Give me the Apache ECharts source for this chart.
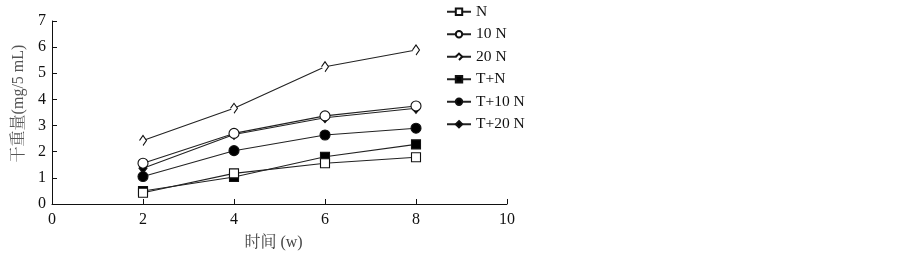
<!DOCTYPE html>
<html>
<head>
<meta charset="utf-8">
<script src="https://cdn.jsdelivr.net/npm/echarts@6/dist/echarts.min.js"></script>
<style>
html,body{margin:0;padding:0;background:#fff;}
#chart{width:903px;height:256px;}
</style>
</head>
<body>
<div id="chart"></div>
<script>
var weeks = [2, 4, 6, 8];
var seriesNames = ['N', '10 N', '20 N', 'T+N', 'T+10 N', 'T+20 N'];
var valN     = [0.43, 1.17, 1.56, 1.79];
var val10N   = [1.56, 2.70, 3.37, 3.75];
var val20N   = [2.43, 3.66, 5.25, 5.89];
var valTN    = [0.50, 1.03, 1.81, 2.28];
var valT10N  = [1.05, 2.04, 2.64, 2.90];
var valT20N  = [1.37, 2.66, 3.30, 3.66];
var xTicks = [0, 2, 4, 6, 8, 10];
var yTicks = [0, 1, 2, 3, 4, 5, 6, 7];

var FONT = "'Liberation Serif', 'Times New Roman', 'Noto Serif CJK SC', 'Noto Sans CJK SC', serif";
var values = [valN, val10N, val20N, valTN, valT10N, valT20N];
var symbols = [
  {symbol: 'rect', size: 9, fill: '#fff'},
  {symbol: 'circle', size: 10, fill: '#fff'},
  {symbol: 'path://M0,6 L5,0 L10,6 L5,12', size: [7, 10], fill: '#fff'},
  {symbol: 'rect', size: 9, fill: '#000'},
  {symbol: 'circle', size: 10, fill: '#000'},
  {symbol: 'diamond', size: [8, 10], fill: '#000'}
];

var series = seriesNames.map(function (name, i) {
  return {
    name: name,
    type: 'line',
    data: weeks.map(function (w, j) { return [w, values[i][j]]; }),
    symbol: symbols[i].symbol,
    symbolSize: symbols[i].size,
    showAllSymbol: true,
    lineStyle: {color: '#222', width: 1.1},
    itemStyle: {color: symbols[i].fill, borderColor: '#111', borderWidth: 1.1},
    emphasis: {disabled: true},
    animation: false,
    z: 10 - i
  };
});

var chart = echarts.init(document.getElementById('chart'));
chart.setOption({
  backgroundColor: '#fff',
  animation: false,
  grid: {left: 52, right: 396, top: 21, bottom: 52, containLabel: false},
  legend: {
    orient: 'vertical',
    left: 446,
    top: 4,
    padding: 0,
    itemWidth: 24,
    itemHeight: 8,
    itemGap: 7,
    data: seriesNames,
    textStyle: {fontFamily: FONT, fontSize: 15.5, color: '#111'},
    selectedMode: false
  },
  xAxis: {
    type: 'value',
    min: 0, max: 10, interval: 2,
    name: '时间 (w)',
    nameLocation: 'middle',
    nameGap: 31,
    nameTextStyle: {fontFamily: FONT, fontSize: 16, color: '#444', padding: [0, 12, 0, 0]},
    axisLine: {show: true, lineStyle: {color: '#111', width: 1}},
    axisTick: {show: true, inside: true, length: 5, lineStyle: {color: '#111'}},
    axisLabel: {fontFamily: FONT, fontSize: 16, color: '#111', margin: 8,
      formatter: function (v) { return xTicks.indexOf(v) >= 0 ? String(v) : ''; }},
    splitLine: {show: false}
  },
  yAxis: {
    type: 'value',
    min: 0, max: 7, interval: 1,
    name: '干重量(mg/5 mL)',
    nameLocation: 'middle',
    nameGap: 25,
    nameTextStyle: {fontFamily: FONT, fontSize: 16, color: '#555', padding: [0, 0, 0, 18]},
    axisLine: {show: true, lineStyle: {color: '#111', width: 1}},
    axisTick: {show: true, inside: true, length: 5, lineStyle: {color: '#111'}},
    axisLabel: {fontFamily: FONT, fontSize: 16, color: '#111', margin: 6,
      formatter: function (v) { return yTicks.indexOf(v) >= 0 ? String(v) : ''; }},
    splitLine: {show: false}
  },
  series: series
});
</script>
</body>
</html>
